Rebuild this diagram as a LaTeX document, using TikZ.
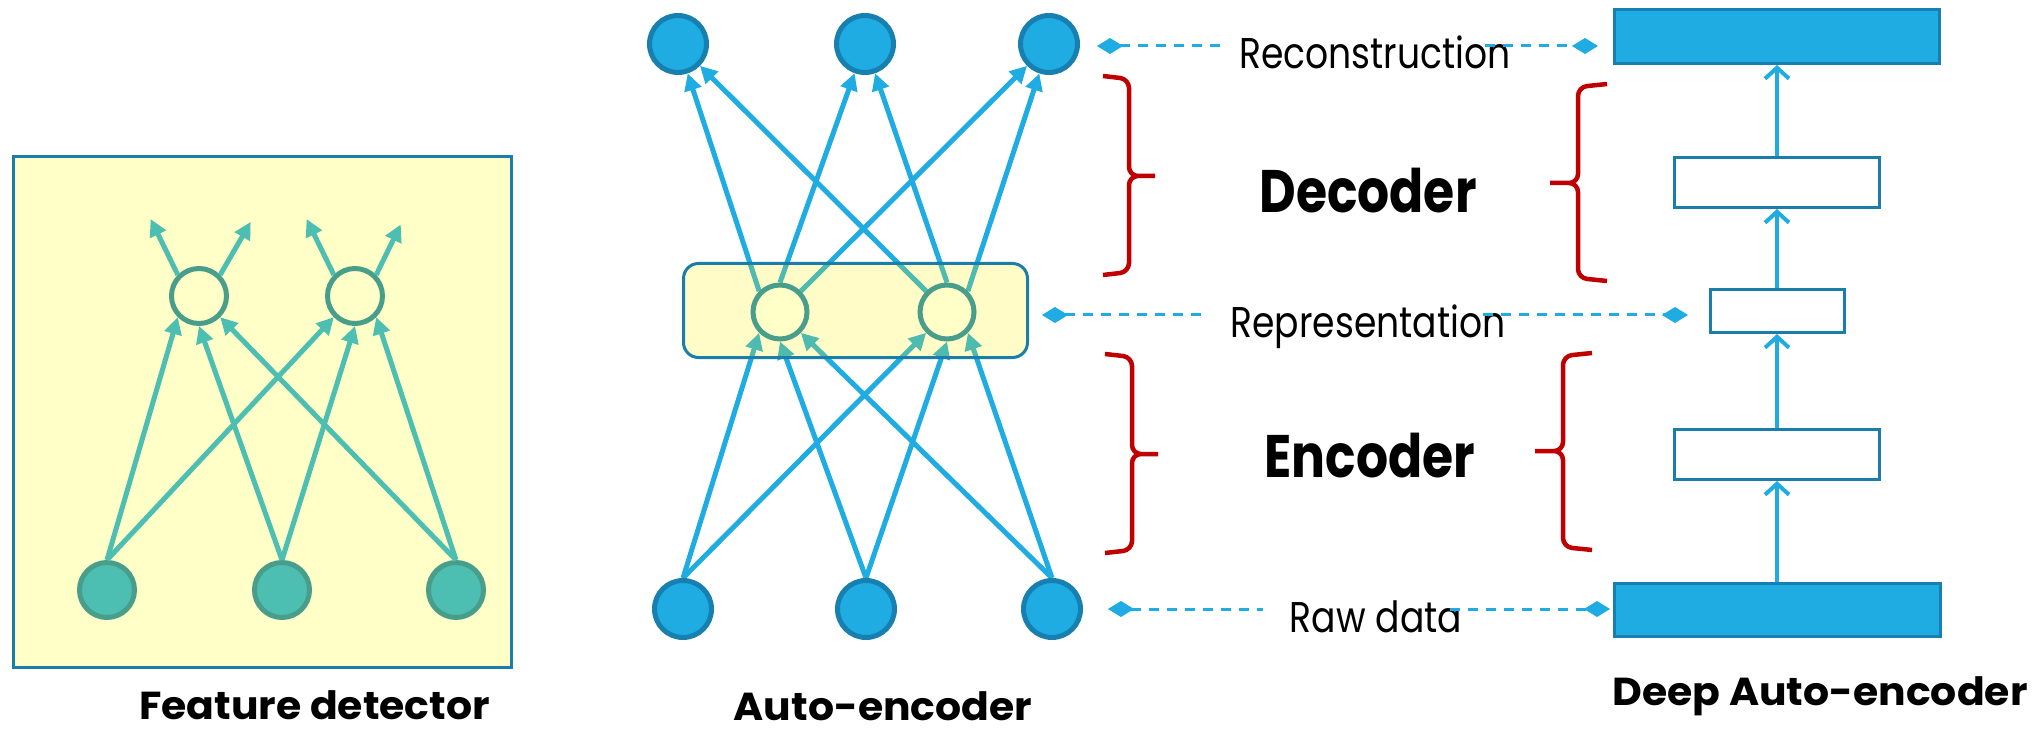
\documentclass[tikz,border=0pt]{standalone}
\usepackage{fontspec}
\setmainfont{Poppins}[FakeStretch=0.84]
\newfontfamily\capfont{Poppins}[FakeStretch=1.05]
\usetikzlibrary{arrows.meta,backgrounds}
\definecolor{aeblue}{HTML}{1EACE2}
\definecolor{aedark}{HTML}{1780B0}
\definecolor{fdteal}{HTML}{4DBEB2}
\definecolor{fddark}{HTML}{489E8A}
\definecolor{pale}{HTML}{FFFFC8}
\definecolor{frame}{HTML}{1A7DAA}
\definecolor{bracered}{HTML}{C00000}

% curly bracket: end x, spine x, tip x, top y, tip y, bottom y
\newcommand{\curly}[6]{%
  \draw[bracered,line width=4.5pt,rounded corners=9pt]
    (#1,#4) -- (#2,#4-3) -- (#2,#5) -- (#3,#5)
    (#3,#5) -- (#2,#5) -- (#2,#6+3) -- (#1,#6);}

\begin{document}
\begin{tikzpicture}[x=1pt,y=1pt,>={Triangle[length=17pt,width=17pt]},
    dia/.tip={Diamond[length=26pt,width=16pt]},
    neuron/.style={circle,inner sep=0pt,minimum size=55pt,line width=5pt},
    fdin/.style={neuron,fill=fdteal,draw=fddark},
    hid/.style={neuron,fill=pale,draw=fddark},
    aenode/.style={neuron,minimum size=57pt,fill=aeblue,draw=aedark},
    fdline/.style={->,fdteal,line width=5pt},
    aeline/.style={->,aeblue,line width=5pt},
    layer/.style={draw=frame,line width=3pt,fill=white,inner sep=0pt},
    full/.style={layer,fill=aeblue,draw=aedark},
    up/.style={-{Straight Barb[length=11pt,width=24pt]},aeblue,line width=4pt},
    link/.style={aeblue,line width=3pt,dash pattern=on 10pt off 8pt},
    tag/.style={font=\fontsize{43}{50}\selectfont,anchor=base,inner sep=0pt},
    part/.style={font=\bfseries\fontsize{60}{70}\selectfont,anchor=base,inner sep=0pt},
    title/.style={font=\capfont\bfseries\fontsize{39}{46}\selectfont,anchor=base,inner sep=0pt}]
  \useasboundingbox (0,0) rectangle (2042,732);

  % feature detector
  \node (fdbox) [draw=frame,fill=pale,line width=3pt,inner sep=0pt,
    minimum width=498pt,minimum height=511pt] at (262.5,320) {};
  \node[fdin] (fdin1) at (107,142) {};
  \node[fdin] (fdin2) at (282,142) {};
  \node[fdin] (fdin3) at (456,142) {};
  \node[hid] (fdhid1) at (199,436) {};
  \node[hid] (fdhid2) at (355,436) {};
  \draw[fdline] (fdin1.north) -- (fdhid1.-135);
  \draw[fdline] (fdin1.north) -- (fdhid2.-135);
  \draw[fdline] (fdin2.north) -- (fdhid1.-90);
  \draw[fdline] (fdin2.north) -- (fdhid2.-90);
  \draw[fdline] (fdin3.north) -- (fdhid1.-45);
  \draw[fdline] (fdin3.north) -- (fdhid2.-45);
  \draw[fdline] (fdhid1.135) -- +(116:62);
  \draw[fdline] (fdhid1.45) -- +(60:61);
  \draw[fdline] (fdhid2.135) -- +(116:62);
  \draw[fdline] (fdhid2.45) -- +(64:56);
  \node[title] (capfd) at (314.5,13) {Feature detector};

  % auto-encoder
  \node[aenode] (aeout1) at (678,688) {};
  \node[aenode] (aeout2) at (865,688) {};
  \node[aenode] (aeout3) at (1049,688) {};
  \node[hid,minimum size=54pt] (aehid1) at (780,420) {};
  \node[hid,minimum size=54pt] (aehid2) at (947,420) {};
  \node[aenode] (aein1) at (683,123) {};
  \node[aenode] (aein2) at (866,123) {};
  \node[aenode] (aein3) at (1052,123) {};
  \begin{pgfonlayer}{background}
    \draw[aeline] (aein1.north) -- (aehid1.-135);
    \draw[aeline] (aein1.north) -- (aehid2.-135);
    \draw[aeline] (aein2.north) -- (aehid1.-90);
    \draw[aeline] (aein2.north) -- (aehid2.-90);
    \draw[aeline] (aein3.north) -- (aehid1.-45);
    \draw[aeline] (aein3.north) -- (aehid2.-45);
    \draw[aeline] (aehid1.135) -- (aeout1);
    \draw[aeline] (aehid1.90) -- (aeout2);
    \draw[aeline] (aehid1.45) -- (aeout3);
    \draw[aeline] (aehid2.135) -- (aeout1);
    \draw[aeline] (aehid2.90) -- (aeout2);
    \draw[aeline] (aehid2.45) -- (aeout3);
    \node (aebox) [draw=frame,fill=yellow,fill opacity=.22,line width=3pt,
      rounded corners=15pt,minimum width=344pt,minimum height=94pt] at (855.5,421.5) {};
  \end{pgfonlayer}
  \node[title] (capae) at (883,12) {Auto-encoder};

  % deep auto-encoder
  \node[full,minimum width=325pt,minimum height=54pt] (deepout) at (1777,695.5) {};
  \node[layer,minimum width=205pt,minimum height=50pt] (deepdec) at (1777,549.5) {};
  \node[layer,minimum width=134pt,minimum height=43pt] (deeprep) at (1777,421) {};
  \node[layer,minimum width=205pt,minimum height=50pt] (deepenc) at (1777,277.5) {};
  \node[full,minimum width=326pt,minimum height=53pt] (deepin) at (1777,122) {};
  \draw[up] (deepin) -- (deepenc);
  \draw[up] (deepenc) -- (deeprep);
  \draw[up] (deeprep) -- (deepdec);
  \draw[up] (deepdec) -- (deepout);
  \node[title] (capdeep) at (1820,27) {Deep Auto-encoder};

  % labels in the middle
  \node[tag] (lblrec) at (1375,663) {Reconstruction};
  \node[tag] (lblrep) at (1368,394) {Representation};
  \node[tag] (lblraw) at (1376,100) {Raw data};
  \node[part] (lbldec) at (1368,519) {Decoder};
  \node[part] (lblenc) at (1370,255) {Encoder};

  \coordinate (recA) at (1097,686); \coordinate (recB) at (1222,686);
  \coordinate (recC) at (1485,686); \coordinate (recD) at (1598,686);
  \coordinate (repA) at (1042,417); \coordinate (repB) at (1207,417);
  \coordinate (repC) at (1483,417); \coordinate (repD) at (1688,417);
  \coordinate (rawA) at (1108,123); \coordinate (rawB) at (1263,123);
  \coordinate (rawC) at (1450,123); \coordinate (rawD) at (1610,123);
  \draw[link,dia-] (recA) -- (recB); \draw[link,-dia] (recC) -- (recD);
  \draw[link,dia-] (repA) -- (repB); \draw[link,-dia] (repC) -- (repD);
  \draw[link,dia-] (rawA) -- (rawB); \draw[link,-dia] (rawC) -- (rawD);

  \curly{1103}{1129}{1155}{656}{556}{457}
  \curly{1105}{1132}{1158}{378}{278}{179}
  \curly{1607}{1578}{1550}{648}{549}{451}
  \curly{1592}{1563}{1535}{379}{281}{182}
\end{tikzpicture}
\end{document}
